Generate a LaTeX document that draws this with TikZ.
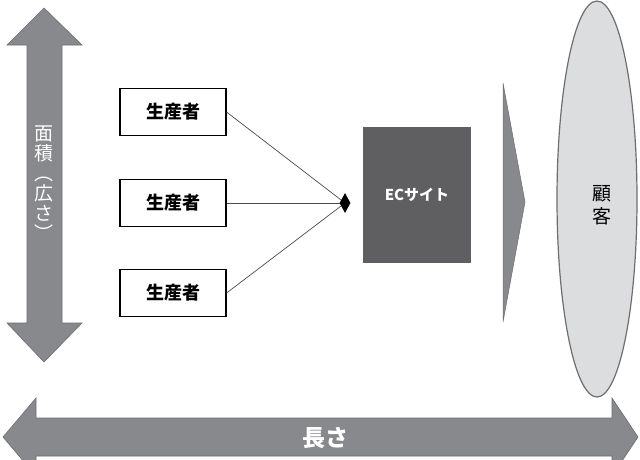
\documentclass[tikz,border=0pt]{standalone}
\usepackage{fontspec}
\newfontfamily\jp{Noto Sans CJK JP}
\usetikzlibrary{shapes.geometric}
\definecolor{arrowgray}{HTML}{88898C}
\definecolor{ecgray}{HTML}{5F5F61}
\definecolor{custfill}{HTML}{DCDDDF}
\definecolor{custline}{HTML}{6E6E70}
\tikzset{
  bigarrow/.style={fill=arrowgray, draw=arrowgray!80!black, line width=0.6pt},
  prodbox/.style={draw=black, line width=1.1pt, minimum width=106pt, minimum height=47pt, inner sep=0pt, font=\jp\bfseries\fontsize{18}{20}\selectfont},
  link/.style={draw=black!70, line width=0.7pt},
  arrowtext/.style={text=white, inner sep=0pt, align=center},
}
\begin{document}
\begin{tikzpicture}[x=1pt,y=-1pt]
\useasboundingbox (0,0) rectangle (640,459);
\clip (0,0) rectangle (640,459);
\fill[white] (0,0) rectangle (640,459);

% vertical double arrow
\path[bigarrow] (44,8) -- (82,45) -- (62,45) -- (62,323) -- (82,323) -- (44,362) -- (7,323) -- (27,323) -- (27,45) -- (7,45) -- cycle;
\node[arrowtext, font=\jp\fontsize{19}{20}\selectfont] (area) at (44,183) {面\\積\\︵\\広\\さ\\︶};

% horizontal double arrow
\path[bigarrow] (3,437) -- (36,398) -- (36,418) -- (612,418) -- (612,398) -- (638,437) -- (612,476) -- (612,456) -- (36,456) -- (36,476) -- cycle;
\node[arrowtext, font=\jp\bfseries\fontsize{23}{25}\selectfont] (length) at (325,438) {長さ};

% producers
\node[prodbox] (p1) at (173,112) {生産者};
\node[prodbox] (p2) at (173,203) {生産者};
\node[prodbox] (p3) at (173,293) {生産者};

% hub
\coordinate (hub) at (345,203);
\draw[link] (p1.east) -- (hub);
\draw[link] (p2.east) -- (hub);
\draw[link] (p3.east) -- (hub);
\node[diamond, fill=black, minimum width=11pt, minimum height=20pt, inner sep=0pt] (dia) at (hub) {};

% EC site
\node[fill=ecgray, minimum width=108pt, minimum height=136pt, inner sep=0pt, text=white, font=\jp\bfseries\fontsize{15}{17}\selectfont] (ec) at (417,195) {ECサイト};

% chevron
\filldraw[fill=arrowgray, draw=arrowgray!80!black, line width=0.5pt] (503,83) -- (525,202) -- (503,322) -- cycle;

% customer
\node[ellipse, fill=custfill, draw=custline, line width=1.2pt, minimum width=80pt, minimum height=396pt, inner sep=0pt] (cust) at (597,199) {};
\node[font=\jp\fontsize{19}{23}\selectfont, align=center, inner sep=0pt] (custtext) at (602,205) {顧\\客};
\end{tikzpicture}
\end{document}
